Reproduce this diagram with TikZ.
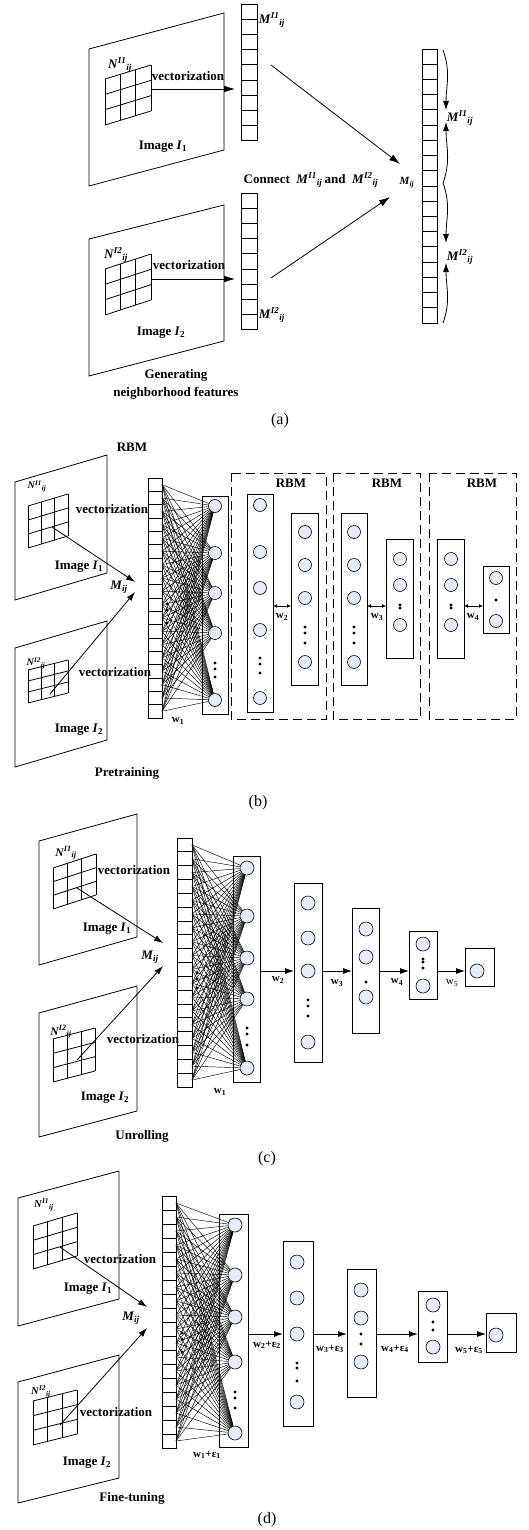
\documentclass[tikz,border=0pt]{standalone}
\usepackage{fontspec}
\setmainfont{Liberation Serif}
\usetikzlibrary{arrows.meta,positioning}
\definecolor{nodeblue}{RGB}{229,236,247}

\newcommand{\Mv}[1]{\textbf{\textit{M}\textsuperscript{\textit{#1}}\textsubscript{\textit{ij}}}}
\newcommand{\Nv}[1]{\textbf{\textit{N}\textsuperscript{\textit{#1}}\textsubscript{\textit{ij}}}}
\newcommand{\Mij}{\textbf{\textit{M}\textsubscript{\textit{ij}}}}
\newcommand{\Img}[1]{\textbf{Image \textit{I}\textsubscript{#1}}}
\newcommand{\wl}[1]{\textbf{w\textsubscript{#1}}}
\newcommand{\we}[1]{\textbf{w\textsubscript{#1}+ε\textsubscript{#1}}}

% 3x3 neighbourhood: top-left x, y, width, rise, height
\newcommand{\nbgrid}[5]{%
  \foreach \k in {0,1,2,3}{%
    \draw ({#1},{#2+\k*#5/3}) -- ({#1+#3},{#2+\k*#5/3-#4});
    \draw ({#1+\k*#3/3},{#2-\k*#4/3}) -- ++(0,#5);
  }}
% column of cells: name, left x, top y, width, cell height, cells
\newcommand{\cellcol}[6]{%
  \node[cellbox,minimum width=#4pt,minimum height={#5*#6*1pt},anchor=north west] (#1) at (#2,#3) {};
  \foreach \k in {1,...,#6}{%
    \draw (#2,{#3+\k*#5}) -- ++(#4,0);
    \coordinate (#1-\k) at ({#2+#4},{#3+(\k-0.5)*#5});
  }}
% box of one layer: name, x1, y1, x2, y2
\newcommand{\lbox}[5]{%
  \node[layerbox,minimum width={(#4-#2)*1pt},minimum height={(#5-#3)*1pt},anchor=north west] (#1) at (#2,#3) {};}
% neurons: prefix, x, list of y
\newcommand{\neurons}[3]{%
  \foreach \yy [count=\i] in {#3} \node[neuron] (#1\i) at (#2,\yy) {};}
% dots: x, list of y
\newcommand{\dts}[2]{\foreach \yy in {#2} \fill (#1,\yy) circle (1.7pt);}

\begin{document}
\begin{tikzpicture}[x=1pt,y=-1pt,line width=0.8pt,
    every node/.style={inner sep=0pt},
    cellbox/.style={draw,inner sep=0pt,outer sep=0pt},
    layerbox/.style={draw,inner sep=0pt,outer sep=0pt},
    rbmbox/.style={draw,dash pattern=on 9pt off 5pt},
    neuron/.style={circle,draw,fill=nodeblue,minimum size=14pt,line width=0.6pt},
    wire/.style={line width=0.45pt},
    arr/.style={-{Latex[length=11pt,width=7pt]}},
    sarr/.style={-{Latex[length=9pt,width=6pt]}},
    darr/.style={{Latex[length=4pt,width=4pt]}-{Latex[length=4pt,width=4pt]}},
    lbl/.style={font=\bfseries\fontsize{13}{18}\selectfont},
    wlbl/.style={font=\fontsize{11}{13}\selectfont},
    sublbl/.style={font=\fontsize{16}{19}\selectfont}]
  \useasboundingbox (0,0) rectangle (529,1530);

  % ---------------- (a)
  \draw (89,49) -- (224,13) -- (224,150) -- (89,186) -- cycle;
  \nbgrid{105}{79}{46}{14}{46}
  \node[lbl] (aN1) at (120,65) {\Nv{I1}};
  \node[lbl] (aVt1) at (188,76) {vectorization};
  \node[lbl] (aI1) at (163,147) {\Img{1}};
  \cellcol{aV1}{241}{4}{16}{15.2}{9}
  \node[lbl] (aM1) at (272,20) {\Mv{I1}};
  \coordinate (aG1) at (151,89);
  \draw[arr,shorten >=6pt] (aG1) -- (aG1 -| aV1.west);

  \draw (89,239) -- (224,205) -- (224,341) -- (89,376) -- cycle;
  \nbgrid{105}{269}{46}{15}{46}
  \node[lbl] (aN2) at (116,255) {\Nv{I2}};
  \node[lbl] (aVt2) at (189,265) {vectorization};
  \node[lbl] (aI2) at (161,333) {\Img{2}};
  \cellcol{aV2}{241}{193}{16}{15.2}{9}
  \node[lbl] (aM2) at (272,315) {\Mv{I2}};
  \coordinate (aG2) at (151,279);
  \draw[arr,shorten >=6pt] (aG2) -- (aG2 -| aV2.west);
  \node[lbl,align=center] (aGen) at (176,384) {Generating\\neighborhood features};

  \cellcol{aM}{422}{49}{15}{15.22}{18}
  \coordinate (aS1) at (271,65);
  \coordinate (aT1) at (400,164);
  \coordinate (aS2) at (271,278);
  \coordinate (aT2) at (390,197);
  \draw[arr] (aS1) -- (aT1);
  \draw[arr] (aS2) -- (aT2);
  \node[lbl] (aCon) at (311,180) {Connect~~\Mv{I1}\,and~~\Mv{I2}};
  \node[font=\bfseries\itshape\fontsize{11}{13}\selectfont] (aMij) at (407,183) {M\textsubscript{ij}};

  \coordinate (aB0) at (443,50);
  \coordinate (aB1) at (446,110);
  \coordinate (aB2) at (446,122);
  \coordinate (aBm) at (443,183);
  \coordinate (aB3) at (446,243);
  \coordinate (aB4) at (446,263);
  \coordinate (aB5) at (443,323);
  \draw[sarr] (aB0) to[out=-70,in=90] (aB1);
  \draw[sarr] (aBm) to[out=70,in=-90] (aB2);
  \draw[sarr] (aBm) to[out=-70,in=90] (aB3);
  \draw[sarr] (aB5) to[out=70,in=-90] (aB4);
  \node[lbl] (aL1) at (460,118) {\Mv{I1}};
  \node[lbl] (aL2) at (460,257) {\Mv{I2}};
  \node[sublbl] (capA) at (280,421) {(a)};

  % ---------------- (b)
  \node[lbl] (bRbm) at (132,447) {RBM};
  \draw (15,482) -- (107,455) -- (107,573) -- (15,600) -- cycle;
  \nbgrid{28}{506}{40}{12}{42}
  \node[lbl,font=\bfseries\fontsize{10}{12}\selectfont] (bN1) at (37,486) {\Nv{I1}};
  \node[lbl] (bVt1) at (112,509) {vectorization};
  \node[lbl] (bI1) at (79,567) {\Img{1}};
  \draw (15,648) -- (107,621) -- (107,740) -- (15,767) -- cycle;
  \nbgrid{28}{670}{40}{10}{33}
  \node[lbl,font=\bfseries\fontsize{10}{12}\selectfont] (bN2) at (36,663) {\Nv{I2}};
  \node[lbl] (bVt2) at (115,672) {vectorization};
  \node[lbl] (bI2) at (79,730) {\Img{2}};
  \node[lbl] (bPre) at (127,773) {Pretraining};
  \node[lbl] (bMij) at (119,587) {\Mij};
  \coordinate (bG1) at (52,527);
  \coordinate (bT1) at (135,582);
  \coordinate (bG2) at (50,694);
  \coordinate (bT2) at (135,592);
  \draw[sarr] (bG1) -- (bT1);
  \draw[sarr] (bG2) -- (bT2);

  \cellcol{bV}{148}{478}{14}{13.33}{18}
  \dts{167}{604,610,623}
  \begin{scope}[neuron/.append style={minimum size=13pt}]
    \lbox{bH}{202}{496}{228}{714}
    \neurons{bh}{215}{506,553,593,633,700}
    \foreach \k in {1,...,18}
      \foreach \j in {1,...,5}
        \draw[wire] (bV-\k) -- (bh\j);
    \dts{215}{663,669,677}
    \node[wlbl] (bw1) at (178,721) {\wl{1}};

    \draw[rbmbox] (231,473) rectangle (326,719);
    \draw[rbmbox] (333,473) rectangle (420,719);
    \draw[rbmbox] (429,473) rectangle (516,719);
    \node[lbl] (bR1) at (291,483) {RBM};
    \node[lbl] (bR2) at (387,483) {RBM};
    \node[lbl] (bR3) at (482,483) {RBM};

    \lbox{b1a}{247}{494}{273}{712}
    \neurons{bpa}{260}{505,552,588,630,698}
    \dts{260}{658,664,673}
    \lbox{b1b}{291}{513}{318}{685}
    \neurons{bpb}{305}{532,565,598,662}
    \dts{305}{627,633,643}
    \lbox{b2a}{341}{513}{367}{685}
    \neurons{bqa}{354}{532,565,598,662}
    \dts{354}{627,633,643}
    \lbox{b2b}{386}{539}{413}{658}
    \neurons{bqb}{400}{559,585,625}
    \dts{400}{605,608}
    \lbox{b3a}{437}{539}{464}{658}
    \neurons{bra}{451}{559,585,625}
    \dts{451}{605,608}
    \lbox{b3b}{483}{566}{509}{633}
    \neurons{brb}{496}{578,621}
    \dts{496}{600}
  \end{scope}
  \coordinate (bline) at (0,606);
  \draw[darr] (b1a.east |- bline) -- (b1b.west |- bline);
  \draw[darr] (b2a.east |- bline) -- (b2b.west |- bline);
  \draw[darr] (b3a.east |- bline) -- (b3b.west |- bline);
  \node[wlbl] (bw2) at (282,617) {\wl{2}};
  \node[wlbl] (bw3) at (377,617) {\wl{3}};
  \node[wlbl] (bw4) at (473,617) {\wl{4}};
  \node[sublbl] (capB) at (258,803) {(b)};

  % ---------------- (c)
  \draw (39,841) -- (137,814) -- (137,937) -- (39,965) -- cycle;
  \nbgrid{53}{868}{43}{14}{41}
  \node[lbl,font=\bfseries\fontsize{11.5}{13}\selectfont] (cN1) at (66,853) {\Nv{I1}};
  \node[lbl] (cVt1) at (134,870) {vectorization};
  \node[lbl] (cI1) at (107,929) {\Img{1}};
  \draw (39,1013) -- (137,986) -- (137,1111) -- (39,1137) -- cycle;
  \nbgrid{53}{1039}{42}{11}{43}
  \node[lbl,font=\bfseries\fontsize{11.5}{13}\selectfont] (cN2) at (61,1032) {\Nv{I2}};
  \node[lbl] (cVt2) at (143,1039) {vectorization};
  \node[lbl] (cI2) at (105,1098) {\Img{2}};
  \node[lbl] (cUnr) at (142,1136) {Unrolling};
  \node[lbl] (cMij) at (150,957) {\Mij};
  \coordinate (cG1) at (77,888);
  \coordinate (cT1) at (163,943);
  \coordinate (cG2) at (77,1060);
  \coordinate (cT2) at (163,966);
  \draw[sarr] (cG1) -- (cT1);
  \draw[sarr] (cG2) -- (cT2);

  \cellcol{cV}{177}{838}{15}{13.83}{18}
  \dts{197}{973,979,988}
  \lbox{cH}{233}{856}{260}{1082}
  \neurons{ch}{247}{868,916,958,999,1068}
  \foreach \k in {1,...,18}
    \foreach \j in {1,...,5}
      \draw[wire] (cV-\k) -- (ch\j);
  \dts{247}{1028,1034,1045}
  \node[wlbl] (cw1) at (220,1092) {\wl{1}};
  \lbox{c2}{294}{883}{322}{1062}
  \neurons{cpa}{308}{903,938,971,1042}
  \dts{308}{1000,1006,1016}
  \lbox{c3}{352}{908}{379}{1033}
  \neurons{cpb}{366}{929,957,997}
  \dts{366}{982}
  \lbox{c4}{409}{931}{437}{999}
  \neurons{cpc}{423}{944,986}
  \dts{423}{959,962,968}
  \lbox{c5}{465}{948}{494}{986}
  \neurons{cpd}{477}{971}
  \coordinate (cline) at (0,971);
  \draw[sarr] (cH.east |- cline) -- (c2.west |- cline);
  \draw[sarr] (c2.east |- cline) -- (c3.west |- cline);
  \draw[sarr] (c3.east |- cline) -- (c4.west |- cline);
  \draw[sarr] (c4.east |- cline) -- (c5.west |- cline);
  \node[wlbl] (cw2) at (278,980) {\wl{2}};
  \node[wlbl] (cw3) at (337,983) {\wl{3}};
  \node[wlbl] (cw4) at (397,982) {\wl{4}};
  \node[wlbl] (cw5) at (452,983) {w\textsubscript{5}};
  \node[sublbl] (capC) at (267,1159) {(c)};

  % ---------------- (d)
  \draw (18,1198) -- (119,1171) -- (119,1299) -- (18,1326) -- cycle;
  \nbgrid{33}{1226}{44}{13}{43}
  \node[lbl,font=\bfseries\fontsize{10.5}{13}\selectfont] (dN1) at (44,1205) {\Nv{I1}};
  \node[lbl] (dVt1) at (120,1259) {vectorization};
  \node[lbl] (dI1) at (88,1289) {\Img{1}};
  \draw (18,1382) -- (119,1355) -- (119,1478) -- (18,1503) -- cycle;
  \nbgrid{33}{1401}{44}{11}{44}
  \node[lbl,font=\bfseries\fontsize{10.5}{13}\selectfont] (dN2) at (41,1392) {\Nv{I2}};
  \node[lbl] (dVt2) at (116,1412) {vectorization};
  \node[lbl] (dI2) at (87,1463) {\Img{2}};
  \node[lbl] (dFine) at (132,1498) {Fine-tuning};
  \node[lbl] (dMij) at (131,1318) {\Mij};
  \coordinate (dG1) at (60,1247);
  \coordinate (dT1) at (147,1307);
  \coordinate (dG2) at (60,1425);
  \coordinate (dT2) at (147,1328);
  \draw[sarr] (dG1) -- (dT1);
  \draw[sarr] (dG2) -- (dT2);

  \cellcol{dV}{162}{1196}{14}{14}{18}
  \dts{182}{1333,1339,1352}
  \lbox{dH}{219}{1214}{248}{1447}
  \neurons{dh}{235}{1225,1275,1317,1362,1433}
  \foreach \k in {1,...,18}
    \foreach \j in {1,...,5}
      \draw[wire] (dV-\k) -- (dh\j);
  \dts{235}{1392,1398,1408}
  \node[wlbl] (dw1) at (207,1455) {\we{1}};
  \lbox{d2}{283}{1241}{313}{1426}
  \neurons{dpa}{297}{1262,1298,1334,1402}
  \dts{297}{1363,1368,1381}
  \lbox{d3}{347}{1269}{376}{1397}
  \neurons{dpb}{361}{1290,1318,1362}
  \dts{361}{1334,1344}
  \lbox{d4}{418}{1291}{447}{1362}
  \neurons{dpc}{433}{1305,1347}
  \dts{433}{1322,1330}
  \lbox{d5}{486}{1313}{516}{1352}
  \neurons{dpd}{496}{1335}
  \coordinate (dline) at (0,1334);
  \draw[sarr] (dH.east |- dline) -- (d2.west |- dline);
  \draw[sarr] (d2.east |- dline) -- (d3.west |- dline);
  \draw[sarr] (d3.east |- dline) -- (d4.west |- dline);
  \draw[sarr] (d4.east |- dline) -- (d5.west |- dline);
  \node[wlbl] (dw2) at (267,1345) {\we{2}};
  \node[wlbl] (dw3) at (330,1349) {\we{3}};
  \node[wlbl] (dw4) at (395,1349) {\we{4}};
  \node[wlbl] (dw5) at (469,1350) {\we{5}};
  \node[sublbl] (capD) at (267,1520) {(d)};
\end{tikzpicture}
\end{document}
